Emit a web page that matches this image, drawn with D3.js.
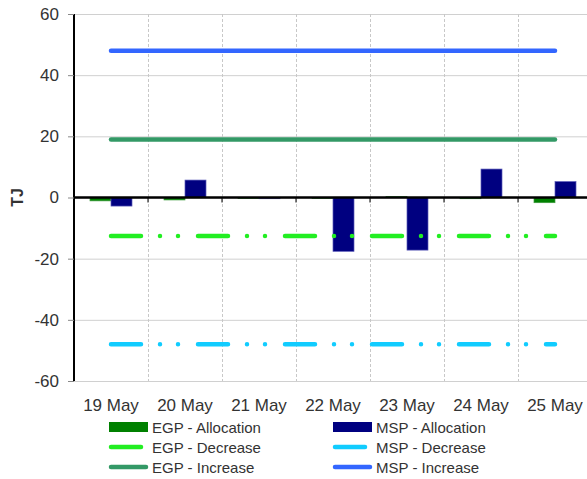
<!DOCTYPE html>
<meta charset="utf-8">
<style>
body { margin: 0; background: #fff; }
text { font-family: "Liberation Sans", Arial, sans-serif; fill: #333; }
</style>
<body>
<svg width="587" height="479"></svg>
<script src="https://d3js.org/d3.v7.min.js"></script>
<script>

var days = ["19 May", "20 May", "21 May", "22 May", "23 May", "24 May", "25 May"];
var egpAllocation = [-1.1, -0.8, -0.3, -0.3, 0.3, -0.4, -1.7];
var mspAllocation = [-2.8, 5.7, -0.4, -17.6, -17.2, 9.3, 5.2];
var egpDecrease = [-12.6, -12.6, -12.6, -12.6, -12.6, -12.6, -12.6];
var mspDecrease = [-48, -48, -48, -48, -48, -48, -48];
var egpIncrease = [19, 19, 19, 19, 19, 19, 19];
var mspIncrease = [48, 48, 48, 48, 48, 48, 48];
var yTicks = [60, 40, 20, 0, -20, -40, -60];

var svg = d3.select("svg"),
    margin = {top: 14, left: 74},
    plotW = 518, plotH = 367;

var g = svg.append("g").attr("transform", "translate(" + margin.left + "," + margin.top + ")");

var x = d3.scaleBand().domain(days).range([0, plotW]);
var y = d3.scaleLinear().domain([-60, 60]).range([plotH, 0]);

// horizontal grid
g.selectAll(".hgrid")
  .data(yTicks)
  .enter().append("line")
    .attr("x1", 0).attr("x2", plotW)
    .attr("y1", function(d) { return y(d) + 0.5; })
    .attr("y2", function(d) { return y(d) + 0.5; })
    .attr("stroke", "#d0d0d0");

// vertical dashed grid
g.selectAll(".vgrid")
  .data(days.slice(1))
  .enter().append("line")
    .attr("x1", function(d) { return x(d) + 0.5; })
    .attr("x2", function(d) { return x(d) + 0.5; })
    .attr("y1", 0).attr("y2", plotH)
    .attr("stroke", "#c8c8c8")
    .attr("stroke-dasharray", "3,2");

// bars
var inner = d3.scaleBand().domain(["egp", "msp"]).range([0, 42]);
var off = (x.bandwidth() - 42) / 2;

function bars(vals, key, fill, stroke) {
  g.selectAll(".bar-" + key)
    .data(vals)
    .enter().append("rect")
      .attr("x", function(d, i) { return x(days[i]) + off + inner(key); })
      .attr("width", inner.bandwidth())
      .attr("y", function(d) { return y(Math.max(0, d)); })
      .attr("height", function(d) { return Math.abs(y(d) - y(0)); })
      .attr("fill", fill)
      .attr("stroke", stroke)
      .attr("stroke-width", 0.7);
}
bars(egpAllocation, "egp", "#008000", "#3c9a3c");
bars(mspAllocation, "msp", "#000080", "#5a5ab8");

// lines
var line = d3.line()
    .x(function(d, i) { return x(days[i]) + x.bandwidth() / 2; })
    .y(function(d) { return y(d); });

function drawLine(vals, color, dash) {
  g.append("path")
      .datum(vals)
      .attr("d", line)
      .attr("fill", "none")
      .attr("stroke", color)
      .attr("stroke-width", 4.5)
      .attr("stroke-linecap", "round")
      .attr("stroke-dasharray", dash || null);
}
var dashDotDot = "30,19,0,18,0,20";
drawLine(egpDecrease, "#22ee22", dashDotDot);
drawLine(mspDecrease, "#11ccff", dashDotDot);
drawLine(egpIncrease, "#339966", null);
drawLine(mspIncrease, "#3366ff", null);

// y axis
var yAxis = g.append("g")
    .call(d3.axisLeft(y).tickValues(yTicks).tickSize(6).tickPadding(9)
      .tickFormat(function(d) { return String(d); }));
yAxis.select(".domain").attr("stroke", "#000").attr("stroke-width", 2).attr("d", "M0,0V" + plotH);
yAxis.selectAll(".tick line").attr("stroke", "#888");
yAxis.selectAll(".tick text").style("font-size", "17px").attr("fill", "#333");

// zero axis with category ticks
var xAxis = g.append("g").attr("transform", "translate(0," + y(0) + ")");
xAxis.append("line").attr("x1", 0).attr("x2", plotW).attr("stroke", "#000").attr("stroke-width", 2.5);
xAxis.selectAll(".xt")
  .data(days.slice(1))
  .enter().append("line")
    .attr("x1", function(d) { return x(d); })
    .attr("x2", function(d) { return x(d); })
    .attr("y1", 0).attr("y2", 5)
    .attr("stroke", "#000").attr("stroke-width", 1);

// x labels
g.selectAll(".xl")
  .data(days)
  .enter().append("text")
    .attr("x", function(d) { return x(d) + x.bandwidth() / 2; })
    .attr("y", plotH + 30)
    .attr("text-anchor", "middle")
    .style("font-size", "17px")
    .text(function(d) { return d; });

// y title
svg.append("text")
    .attr("transform", "translate(23," + (margin.top + y(0)) + ") rotate(-90)")
    .attr("text-anchor", "middle")
    .style("font-size", "16px")
    .style("font-weight", "bold")
    .text("TJ");

// legend
var legend = [
  {name: "EGP - Allocation", type: "rect", color: "#008000", col: 0, row: 0},
  {name: "EGP - Decrease", type: "dline", color: "#22ee22", col: 0, row: 1},
  {name: "EGP - Increase", type: "line", color: "#339966", col: 0, row: 2},
  {name: "MSP - Allocation", type: "rect", color: "#000080", col: 1, row: 0},
  {name: "MSP - Decrease", type: "dline", color: "#11ccff", col: 1, row: 1},
  {name: "MSP - Increase", type: "line", color: "#3366ff", col: 1, row: 2}
];
var lg = svg.append("g");
legend.forEach(function(d) {
  var lx = d.col === 0 ? 109 : 333, ly = 427 + d.row * 20;
  if (d.type === "rect") {
    lg.append("rect").attr("x", lx).attr("y", ly - 5).attr("width", 39).attr("height", 10).attr("fill", d.color);
  } else {
    lg.append("line").attr("x1", lx + 2).attr("x2", d.type === "dline" ? lx + 32 : lx + 37)
      .attr("y1", ly).attr("y2", ly)
      .attr("stroke", d.color).attr("stroke-width", 4.5).attr("stroke-linecap", "round");
  }
  lg.append("text").attr("x", lx + 43).attr("y", ly + 5.5).style("font-size", "15px").text(d.name);
});

</script>
</body>
